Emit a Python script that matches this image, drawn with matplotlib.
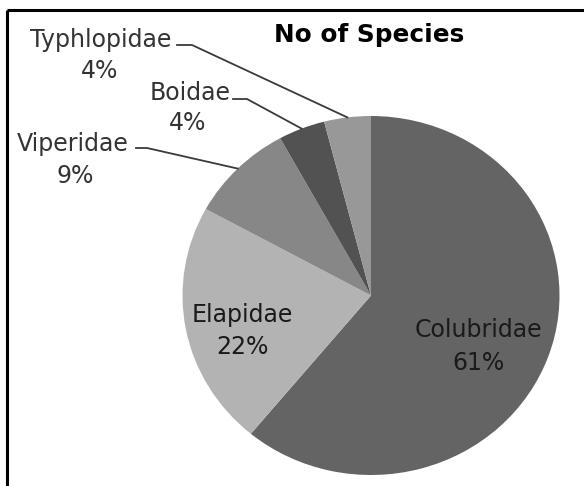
import numpy as np
import matplotlib
matplotlib.use('Agg')
import matplotlib.pyplot as plt

families = ['Colubridae', 'Elapidae', 'Viperidae', 'Boidae', 'Typhlopidae']
percents = [61, 22, 9, 4, 4]
colors = ['#646464', '#b3b3b3', '#878787', '#525252', '#989898']
title = 'No of Species'

W, H = 584, 486
fig = plt.figure(figsize=(W/100, H/100), dpi=100)

# pie is a bit stretched horizontally in the reference
cx, cy, rx, ry = 371, 295.5, 188.5, 179.5
axp = fig.add_axes([(cx - rx)/W, (H - cy - ry)/H, 2*rx/W, 2*ry/H])
wedges, _ = axp.pie(percents, colors=colors, startangle=90, counterclock=False,
                    radius=1, wedgeprops=dict(linewidth=0))
axp.set_aspect('auto')
axp.set_xlim(-1, 1)
axp.set_ylim(-1, 1)
axp.axis('off')

# overlay axes in pixel coords (y down), drawn on top of the pie
ax0 = fig.add_axes([0, 0, 1, 1])
ax0.set_xlim(0, W)
ax0.set_ylim(H, 0)
ax0.axis('off')

# frame (only top and left visible)
ax0.plot([7, W + 5], [10, 10], color='black', lw=2.2, solid_capstyle='butt')
ax0.plot([7, 7], [10, H + 5], color='black', lw=2.2, solid_capstyle='butt')

ax0.text(369, 42, title, ha='center', va='baseline', fontsize=17.8,
         fontweight='bold', color='black')

txt = '#333333'
fs = 17

def edge_point(w):
    t = np.deg2rad((w.theta1 + w.theta2) / 2)
    p = axp.transData.transform((np.cos(t), np.sin(t)))
    return ax0.transData.inverted().transform(p)

# outside labels: name pos, pct pos, knee start/end
outside = {
    'Typhlopidae': ((101, 47), (100, 78), (177, 192, 45)),
    'Boidae': ((190, 100), (188, 130), (233, 247, 99)),
    'Viperidae': ((73, 151), (75, 183), (136, 147, 148)),
}
for name, (npos, ppos, knee) in outside.items():
    i = families.index(name)
    ax0.text(*npos, name, ha='center', va='baseline', fontsize=fs, color=txt)
    ax0.text(*ppos, f'{percents[i]}%', ha='center', va='baseline', fontsize=fs, color=txt)
    ex, ey = edge_point(wedges[i])
    ax0.plot([knee[0], knee[1], ex], [knee[2], knee[2], ey], color='#3a3a3a', lw=1.3)

inside = {
    'Elapidae': ((242, 322), (242, 354)),
    'Colubridae': ((478, 337), (478, 370)),
}
for name, (npos, ppos) in inside.items():
    i = families.index(name)
    ax0.text(*npos, name, ha='center', va='baseline', fontsize=fs, color='#1a1a1a')
    ax0.text(*ppos, f'{percents[i]}%', ha='center', va='baseline', fontsize=fs, color='#1a1a1a')

fig.savefig('out.png', dpi=100)
plt.close(fig)
